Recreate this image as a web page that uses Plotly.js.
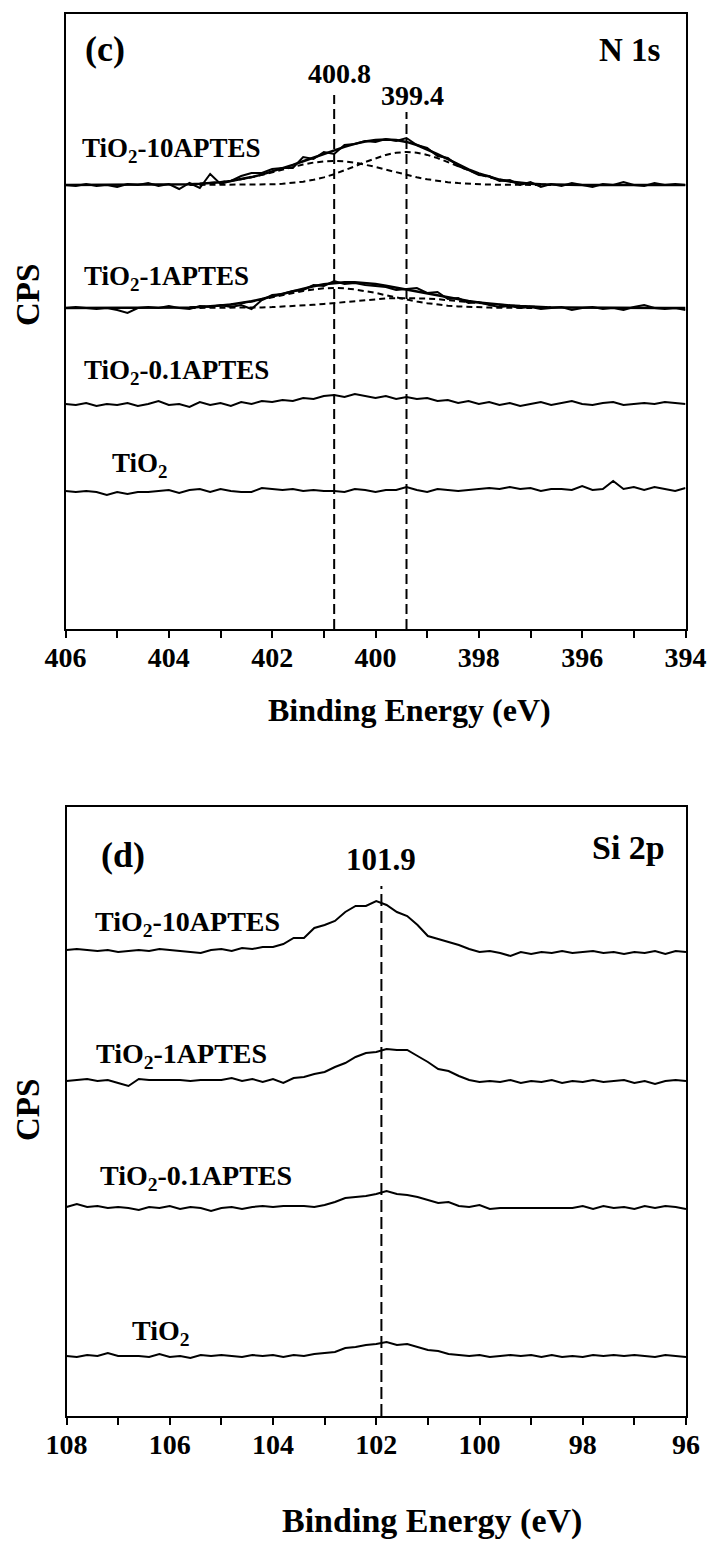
<!DOCTYPE html>
<html>
<head>
<meta charset="utf-8">
<script src="https://cdn.plot.ly/plotly-3.0.1.min.js"></script>
<style>
  html, body { margin: 0; padding: 0; background: #fff; }
  #chart { width: 714px; height: 1561px; }
</style>
</head>
<body>
<div id="chart"></div>
<script>
// ---------- N 1s region (binding energy, eV) ----------
const nEnergy = [406.0,405.8,405.6,405.4,405.2,405.0,404.8,404.6,404.4,404.2,
  404.0,403.8,403.6,403.4,403.2,403.0,402.8,402.6,402.4,402.2,
  402.0,401.8,401.6,401.4,401.2,401.0,400.8,400.6,400.4,400.2,
  400.0,399.8,399.6,399.4,399.2,399.0,398.8,398.6,398.4,398.2,
  398.0,397.8,397.6,397.4,397.2,397.0,396.8,396.6,396.4,396.2,
  396.0,395.8,395.6,395.4,395.2,395.0,394.8,394.6,394.4,394.2,394.0];

// measured counts above each spectrum's own background (a.u.)
const nTiO2_10APTES = [0,-1,1,-1,0,-2,1,0,2,-1, 1,-4,2,-3,11,1,4,9,12,12,
  16,17,17,28,26,33,31,40,41,44, 43,46,44,47,40,37,29,27,19,15,
  10,9,4,5,0,3,-2,1,-1,2, 0,-2,1,0,3,0,-1,2,0,1, 0];
const nTiO2_1APTES = [0,1,0,-1,0,-2,-5,0,1,0, 2,0,-1,2,1,3,1,3,-1,8,
  13,14,17,18,23,22,27,24,25,23, 22,21,18,19,20,15,16,9,10,5,
  6,3,1,2,0,1,-1,0,1,-2, 0,1,-1,0,-2,1,3,0,-1,0, -2];
const nTiO2_01APTES = [0,-1,1,-2,0,-1,1,-2,0,3, -1,0,-3,2,-1,1,-2,2,0,3,
  2,4,3,6,5,8,9,7,10,8, 6,8,5,7,5,6,3,4,1,3,
  0,2,-1,1,-2,0,2,-1,1,3, 0,-1,1,2,-1,0,1,0,2,1, 0];
const nTiO2 = [-1,-2,-1,-2,-5,-2,-4,-2,-2,-1, 0,-3,0,1,-2,1,-1,-2,-2,2,
  1,0,1,-1,0,-1,-1,-2,1,0, -2,0,0,3,0,-2,1,0,-1,0,
  1,2,1,3,1,2,-1,1,1,0, 4,0,1,9,1,3,0,3,1,-1, 2];

// fitted envelopes (sum of the two components)
const nFit10APTES = [0,0,0,0,0,0,0,0,0,0, 0.3,0.4,0.7,1.2,1.9,2.8,4.1,5.8,7.9,10.4,
  13.4,16.6,20.1,23.8,27.5,31.2,34.8,38.1,41.1,43.4, 44.9,45.5,44.9,43.1,40.0,35.8,30.9,25.8,20.6,15.7,
  11.5,8.1,5.4,3.5,2.1,1.3,0.7,0.4,0.2,0.1, 0,0,0,0,0,0,0,0,0,0, 0];
const nFit1APTES = [0,0,0,0,0,0,0,0,0,0, 0.2,0.4,0.6,1.0,1.6,2.4,3.6,5.0,6.8,9.0,
  11.5,14.1,16.9,19.5,21.8,23.7,25.0,25.7,25.7,25.0, 23.9,22.3,20.4,18.4,16.3,14.2,12.2,10.3,8.6,7.0,
  5.6,4.4,3.4,2.6,1.9,1.3,0.9,0.6,0.4,0.3, 0.2,0,0,0,0,0,0,0,0,0, 0];

// deconvoluted components (400.8 eV and 399.4 eV)
const nCompEnergy = [403.6,403.4,403.2,403.0,402.8,402.6,402.4,402.2,402.0,401.8,
  401.6,401.4,401.2,401.0,400.8,400.6,400.4,400.2,400.0,399.8,
  399.6,399.4,399.2,399.0,398.8,398.6,398.4,398.2,398.0,397.8,
  397.6,397.4,397.2,397.0,396.8,396.6];
const n10APTES_4008 = [0.7,1.2,1.9,2.8,4.1,5.7,7.7,10.1,12.7,15.4, 18.1,20.5,22.4,23.6,24.0,23.6,22.4,20.5,18.1,15.4,
  12.7,10.1,7.7,5.7,4.1,2.8,1.9,1.2,0.7,0.4, 0.3,0.1,0.1,0,0,0];
const n10APTES_3994 = [0,0,0,0,0,0.1,0.2,0.4,0.7,1.2, 2.1,3.3,5.2,7.6,10.8,14.5,18.7,23.0,26.9,30.1,
  32.3,33.0,32.3,30.1,26.9,23.0,18.7,14.5,10.8,7.6, 5.2,3.3,2.1,1.2,0.7,0.4];
const n1APTES_4008 = [0.6,1.0,1.6,2.3,3.4,4.8,6.4,8.4,10.6,12.8, 15.1,17.1,18.6,19.7,20.0,19.7,18.6,17.1,15.1,12.8,
  10.6,8.4,6.4,4.8,3.4,2.3,1.6,1.0,0.6,0.4, 0.2,0.1,0.1,0,0,0];
const n1APTES_3994 = [0,0,0.1,0.1,0.2,0.3,0.4,0.6,0.9,1.3, 1.8,2.4,3.2,4.0,5.0,6.0,7.0,8.0,8.8,9.5,
  9.9,10.0,9.9,9.5,8.8,8.0,7.0,6.0,5.0,4.0, 3.2,2.4,1.8,1.3,0.9,0.6];

const nStackOffsets = [444, 321, 225, 139];
const nPeakPositions = [400.8, 399.4];
const nTickVals = [406, 404, 402, 400, 398, 396, 394];
const nTickText = ['406', '404', '402', '400', '398', '396', '394'];
const nMinorTicks = [405, 403, 401, 399, 397, 395];

// ---------- Si 2p region ----------
const siEnergy = [108.0,107.8,107.6,107.4,107.2,107.0,106.8,106.6,106.4,106.2,
  106.0,105.8,105.6,105.4,105.2,105.0,104.8,104.6,104.4,104.2,
  104.0,103.8,103.6,103.4,103.2,103.0,102.8,102.6,102.4,102.2,
  102.0,101.8,101.6,101.4,101.2,101.0,100.8,100.6,100.4,100.2,
  100.0,99.8,99.6,99.4,99.2,99.0,98.8,98.6,98.4,98.2,
  98.0,97.8,97.6,97.4,97.2,97.0,96.8,96.6,96.4,96.2,96.0];
const siTiO2_10APTES = [0,1,0,-1,0,-2,-1,0,-1,1, 0,-1,-2,-3,0,1,-1,2,1,3,
  3,6,12,12,22,25,29,38,44,44, 49,45,38,34,25,14,11,8,5,1,
  -2,-1,-3,-6,-2,-4,-2,-3,-1,-3, -2,-1,-3,-2,-4,-2,-3,-1,-4,-1, -2];
const siTiO2_1APTES = [0,1,2,0,1,-2,-5,2,1,1, 1,1,0,1,1,1,3,0,2,-1,
  2,-2,3,4,7,9,14,18,24,28, 29,32,31,31,25,19,12,10,5,1,
  -1,0,-1,1,-2,0,-1,1,-2,0, -1,1,-1,0,1,-2,0,-3,0,1, 0];
const siTiO2_01APTES = [0,3,0,1,-1,0,-1,-3,0,-1, 1,-2,0,-1,-4,-1,0,-2,0,1,
  0,1,1,1,0,2,5,9,10,11, 13,16,13,12,10,7,4,5,1,0,
  2,-2,-1,-1,-1,-1,-1,-1,-1,-1, 1,-2,1,-1,0,-2,1,-1,1,0, -2];
const siTiO2 = [0,-1,1,0,3,0,0,0,-1,2, -1,0,-2,1,0,1,0,-1,1,0,
  1,-1,1,0,2,3,4,8,9,11, 12,14,11,12,9,6,5,2,1,0,
  1,-1,0,1,0,1,-1,1,-1,0, -1,1,0,1,0,1,0,-1,1,0, -1];

const siStackOffsets = [466, 335, 209, 60];
const siPeakPositions = [101.9];
const siTickVals = [108, 106, 104, 102, 100, 98, 96];
const siTickText = ['108', '106', '104', '102', '100', '98', '96'];
const siMinorTicks = [107, 105, 103, 101, 99, 97];

const sampleNames = ['TiO<sub>2</sub>-10APTES', 'TiO<sub>2</sub>-1APTES',
  'TiO<sub>2</sub>-0.1APTES', 'TiO<sub>2</sub>'];

// ---------- drawing ----------
const W = 714, H = 1561;
const FONT = '"Liberation Serif", "Times New Roman", serif';
const px = x => x / W;
const py = y => 1 - y / H;
const lift = (arr, off) => arr.map(v => v + off);

function spectrum(x, y, xa, ya, width) {
  return { x, y, xaxis: xa, yaxis: ya, type: 'scatter', mode: 'lines',
    line: { color: '#000', width: width || 2 }, hoverinfo: 'skip', showlegend: false };
}
function component(x, y, xa, ya) {
  return { x, y, xaxis: xa, yaxis: ya, type: 'scatter', mode: 'lines',
    line: { color: '#000', width: 2, dash: '6px,4px' }, hoverinfo: 'skip', showlegend: false };
}

const nRaw = [nTiO2_10APTES, nTiO2_1APTES, nTiO2_01APTES, nTiO2];
const siRaw = [siTiO2_10APTES, siTiO2_1APTES, siTiO2_01APTES, siTiO2];

const traces = [
  component(nCompEnergy, lift(n10APTES_4008, nStackOffsets[0]), 'x', 'y'),
  component(nCompEnergy, lift(n10APTES_3994, nStackOffsets[0]), 'x', 'y'),
  component(nCompEnergy, lift(n1APTES_4008, nStackOffsets[1]), 'x', 'y'),
  component(nCompEnergy, lift(n1APTES_3994, nStackOffsets[1]), 'x', 'y'),
  spectrum(nEnergy, lift(nFit10APTES, nStackOffsets[0]), 'x', 'y', 2.5),
  spectrum(nEnergy, lift(nFit1APTES, nStackOffsets[1]), 'x', 'y', 2.5),
];
nRaw.forEach((s, i) => traces.push(spectrum(nEnergy, lift(s, nStackOffsets[i]), 'x', 'y')));
siRaw.forEach((s, i) => traces.push(spectrum(siEnergy, lift(s, siStackOffsets[i]), 'x2', 'y2')));

function xAxis(domain, range, tickvals, ticktext, minor, anchor) {
  return {
    domain, range, anchor, type: 'linear',
    showline: true, mirror: true, linecolor: '#000', linewidth: 2,
    ticks: 'outside', ticklen: 7, tickwidth: 2, tickcolor: '#000',
    tickmode: 'array', tickvals, ticktext, ticklabelstandoff: -5,
    tickfont: { family: FONT, size: 28, color: '#000', weight: 'bold' },
    minor: { tickmode: 'array', tickvals: minor, ticks: 'outside', ticklen: 7,
      tickwidth: 2, tickcolor: '#000', showgrid: false },
    showgrid: false, zeroline: false, fixedrange: true
  };
}
function yAxis(domain, range, anchor) {
  return {
    domain, range, anchor, showline: true, mirror: true, linecolor: '#000', linewidth: 2,
    ticks: '', showticklabels: false, showgrid: false, zeroline: false, fixedrange: true
  };
}

function note(text, x, y, size, extra) {
  return Object.assign({ text: '<b>' + text + '</b>', xref: 'paper', yref: 'paper',
    x: px(x), y: py(y), xanchor: 'center', yanchor: 'middle', showarrow: false,
    font: { family: FONT, size: size, color: '#000' } }, extra || {});
}
function peakNote(text, x, y, xa, ya, size, shift) {
  return { text: '<b>' + text + '</b>', xref: xa, yref: ya, x, y,
    xanchor: 'center', yanchor: 'middle', xshift: shift, showarrow: false,
    font: { family: FONT, size: size, color: '#000' } };
}

const annotations = [
  note('(c)', 105, 49, 36),
  note('N 1s', 663, 50, 33, { xanchor: 'right' }),
  peakNote(String(nPeakPositions[0]), nPeakPositions[0], 556, 'x', 'y', 28, 5),
  peakNote(String(nPeakPositions[1]), nPeakPositions[1], 534, 'x', 'y', 28, 6),
  note(sampleNames[0], 80, 150, 27, { xanchor: 'left' }),
  note(sampleNames[1], 82, 278, 27, { xanchor: 'left' }),
  note(sampleNames[2], 82, 372, 27, { xanchor: 'left' }),
  note(sampleNames[3], 110, 465, 27, { xanchor: 'left' }),
  note('CPS', 28, 295, 33, { textangle: -90 }),
  note('Binding Energy (eV)', 409, 710, 32),

  note('(d)', 123, 855, 36),
  note('Si 2p', 667, 847, 34, { xanchor: 'right' }),
  peakNote(String(siPeakPositions[0]), siPeakPositions[0], 557, 'x2', 'y2', 31, 0),
  note(sampleNames[0], 93, 923, 28, { xanchor: 'left' }),
  note(sampleNames[1], 94, 1055, 28, { xanchor: 'left' }),
  note(sampleNames[2], 98, 1177, 28, { xanchor: 'left' }),
  note(sampleNames[3], 130, 1332, 28, { xanchor: 'left' }),
  note('CPS', 28, 1110, 33, { textangle: -90 }),
  note('Binding Energy (eV)', 432, 1521, 34)
];

function peakLine(x, top, xa, ya, dash) {
  return { type: 'line', xref: xa, yref: ya, x0: x, x1: x, y0: 0, y1: top,
    line: { color: '#000', width: 2, dash } };
}
const shapes = [
  peakLine(nPeakPositions[0], 534, 'x', 'y', '10px,5px'),
  peakLine(nPeakPositions[1], 517, 'x', 'y', '10px,5px'),
  peakLine(siPeakPositions[0], 530, 'x2', 'y2', '12px,5px')
];

const layout = {
  width: W, height: H,
  margin: { l: 0, r: 0, t: 0, b: 0 },
  paper_bgcolor: '#fff', plot_bgcolor: '#fff',
  showlegend: false,
  font: { family: FONT, size: 28, color: '#000' },
  xaxis: xAxis([px(65.5), px(685.5)], [406, 394], nTickVals, nTickText, nMinorTicks, 'y'),
  yaxis: yAxis([py(629), py(14)], [0, 615], 'x'),
  xaxis2: xAxis([px(66.5), px(686)], [108, 96], siTickVals, siTickText, siMinorTicks, 'y2'),
  yaxis2: yAxis([py(1416), py(807)], [0, 609], 'x2'),
  annotations, shapes
};

Plotly.newPlot('chart', traces, layout, { staticPlot: true, displayModeBar: false });
</script>
</body>
</html>
